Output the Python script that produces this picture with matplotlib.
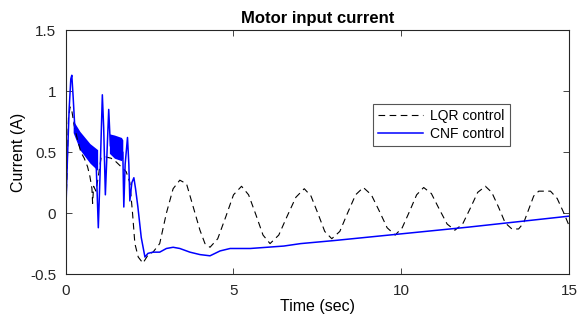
import matplotlib
matplotlib.use("Agg")
import matplotlib.pyplot as plt

plt.rcParams['font.family'] = ['Liberation Sans', 'DejaVu Sans']

# LQR control (black dashed)
t_lqr = [0.0, 0.04, 0.08, 0.13, 0.18, 0.25, 0.35, 0.45, 0.55, 0.65, 0.72, 0.78, 0.8, 0.83, 0.9,
         0.97, 1.05, 1.2, 1.35, 1.5, 1.65, 1.8, 1.91, 1.99, 2.06, 2.16, 2.3, 2.46, 2.6, 2.8,
         3.0, 3.2, 3.4, 3.6, 3.8, 4.0, 4.15, 4.3, 4.53, 4.77, 5.0, 5.24, 5.45, 5.67, 5.88,
         6.09, 6.35, 6.6, 6.86, 7.11, 7.31, 7.52, 7.72, 7.93, 8.17, 8.4, 8.64, 8.87, 9.11,
         9.35, 9.58, 9.82, 10.03, 10.25, 10.46, 10.67, 10.9, 11.13, 11.37, 11.6, 11.83, 12.06,
         12.28, 12.51, 12.7, 12.9, 13.1, 13.3, 13.5, 13.65, 13.8, 13.95, 14.1, 14.45, 14.65,
         14.85, 15.0]
i_lqr = [0.0, 0.35, 0.78, 0.87, 0.84, 0.72, 0.6, 0.5, 0.45, 0.38, 0.3, 0.2, 0.08, 0.22, 0.18,
         0.3, 0.45, 0.46, 0.45, 0.42, 0.38, 0.34, 0.25, 0.0, -0.25, -0.36, -0.41, -0.34, -0.32, -0.25,
         0.0, 0.2, 0.27, 0.24, 0.05, -0.14, -0.25, -0.28, -0.21, -0.03, 0.15, 0.22, 0.15, -0.015, -0.18,
         -0.25, -0.18, -0.025, 0.13, 0.20, 0.14, -0.005, -0.15, -0.21, -0.15, 0.0, 0.15, 0.21, 0.15,
         0.015, -0.12, -0.18, -0.12, 0.015, 0.15, 0.21, 0.16, 0.035, -0.09, -0.14, -0.09, 0.04,
         0.17, 0.22, 0.17, 0.05, -0.08, -0.13, -0.13, -0.08, 0.03, 0.14, 0.18, 0.18, 0.12,
         0.0, -0.10]

# CNF control (blue solid)
t_cnf = [0.0, 0.05, 0.1, 0.15, 0.18, 0.22, 0.27, 0.3, 0.5, 0.7, 0.9, 0.97, 1.02, 1.09, 1.13,
         1.18, 1.23, 1.28, 1.33, 1.5, 1.7, 1.73, 1.77, 1.84, 1.88, 1.91, 1.97, 2.03, 2.08, 2.15,
         2.25, 2.36, 2.45, 2.6, 2.8, 3.0, 3.2, 3.4, 3.7, 4.0, 4.3, 4.6, 4.9, 5.5, 6.0, 6.5,
         7.0, 7.6, 8.0, 10.0, 12.0, 15.0]
i_cnf = [0.0, 0.45, 0.85, 1.1, 1.13, 0.95, 0.7, 0.68, 0.6, 0.5, 0.45, -0.12, 0.3, 0.97, 0.7,
         0.15, 0.5, 0.85, 0.55, 0.53, 0.5, 0.05, 0.4, 0.62, 0.4, 0.1, 0.25, 0.29, 0.2, 0.05,
         -0.2, -0.36, -0.33, -0.32, -0.32, -0.29, -0.28, -0.29, -0.32, -0.34, -0.35, -0.31, -0.29, -0.29, -0.28, -0.27,
         -0.25, -0.235, -0.225, -0.17, -0.115, -0.025]

# noisy band of the CNF signal (two stretches)
t_band1 = [0.22, 0.42, 0.72, 0.95]
hi_band1 = [0.76, 0.67, 0.57, 0.52]
lo_band1 = [0.66, 0.52, 0.41, 0.35]
t_band2 = [1.3, 1.45, 1.66, 1.7]
hi_band2 = [0.65, 0.64, 0.62, 0.6]
lo_band2 = [0.49, 0.45, 0.43, 0.45]

fig = plt.figure(figsize=(5.77, 3.24), dpi=100)
ax = fig.add_axes([0.114, 0.154, 0.872, 0.753])

ax.plot(t_lqr, i_lqr, color='black', linestyle='--', linewidth=0.8, dashes=(6, 4), label='LQR control')
ax.plot(t_cnf, i_cnf, color='#0000ff', linewidth=1.1, label='CNF control')
ax.fill_between(t_band1, lo_band1, hi_band1, color='#0000ff', linewidth=0)
ax.fill_between(t_band2, lo_band2, hi_band2, color='#0000ff', linewidth=0)

ax.set_xlim(0, 15)
ax.set_ylim(-0.5, 1.5)
ax.set_xticks([0, 5, 10, 15])
ax.set_yticks([-0.5, 0, 0.5, 1, 1.5])
ax.set_xticklabels(['0', '5', '10', '15'])
ax.set_yticklabels(['-0.5', '0', '0.5', '1', '1.5'])
ax.tick_params(direction='in', top=True, right=True, length=4, width=0.6, labelsize=11,
               colors='#262626', pad=7)
for s in ax.spines.values():
    s.set_linewidth(0.8)
    s.set_color('#262626')

ax.set_title('Motor input current', fontsize=12, fontweight='bold', pad=5)
ax.set_xlabel('Time (sec)', fontsize=11.5, labelpad=1)
ax.set_ylabel('Current (A)', fontsize=11.5, labelpad=3)

leg = ax.legend(loc='upper left', bbox_to_anchor=(0.61, 0.697), borderaxespad=0, fontsize=10,
                fancybox=False, handlelength=3.3, framealpha=1, borderpad=0.35, labelspacing=0.3,
                handletextpad=0.5)
leg.get_frame().set_edgecolor('#555555')
leg.get_frame().set_linewidth(0.8)

plt.savefig('out.png', dpi=100)
